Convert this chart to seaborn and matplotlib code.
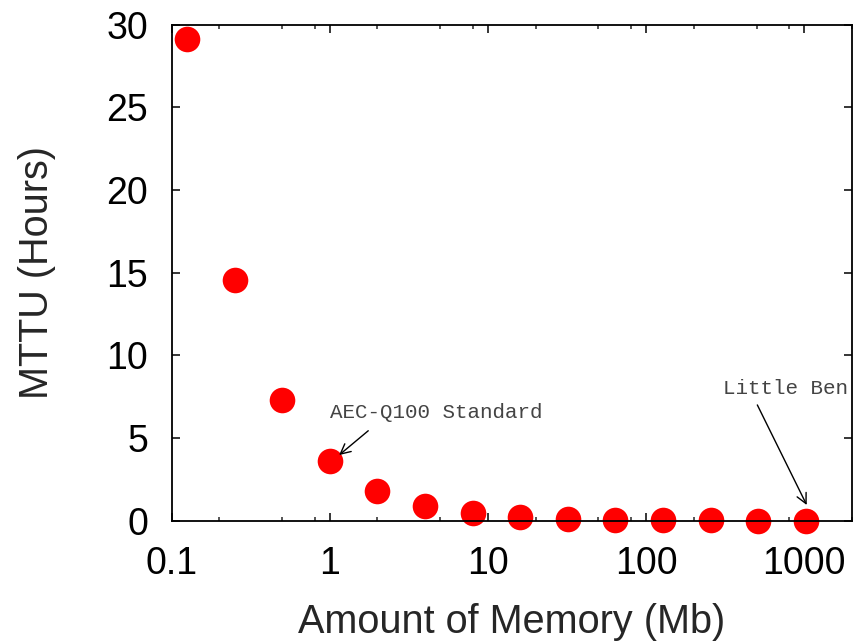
import matplotlib
matplotlib.use("Agg")
import matplotlib.pyplot as plt
import matplotlib.ticker as mticker
import seaborn as sns
import pandas as pd

memory_mb = [0.125, 0.25, 0.5, 1, 2, 4, 8, 16, 32, 64, 128, 256, 512, 1024]
mttu_hours = [29.1, 14.55, 7.28, 3.64, 1.82, 0.91, 0.455, 0.23, 0.114, 0.057, 0.028, 0.014, 0.007, 0.0036]
x_ticks = [0.1, 1, 10, 100, 1000]
x_tick_labels = ["0.1", "1", "10", "100", "1000"]
y_ticks = [0, 5, 10, 15, 20, 25, 30]

df = pd.DataFrame({"memory": memory_mb, "mttu": mttu_hours})

sns.set_style("ticks")
plt.rcParams["font.family"] = ["Liberation Sans", "DejaVu Sans"]

fig = plt.figure(figsize=(8.57, 6.42), dpi=100)
ax = fig.add_axes([0.2004, 0.1889, 0.9938 - 0.2004, 0.9618 - 0.1889])

sns.scatterplot(data=df, x="memory", y="mttu", ax=ax, color="#ff0000",
                s=340, linewidth=0, clip_on=False, zorder=1)

ax.set_xscale("log")
ax.set_xlim(0.1, 2000)
ax.set_ylim(0, 30)
ax.set_xticks(x_ticks)
ax.set_xticklabels(x_tick_labels)
minors = [m * 10.0 ** e for e in range(-1, 4) for m in (2, 5, 8)]
ax.xaxis.set_minor_locator(mticker.FixedLocator(minors))
ax.xaxis.set_minor_formatter(mticker.NullFormatter())
ax.set_yticks(y_ticks)

for sp in ax.spines.values():
    sp.set_visible(True)
    sp.set_linewidth(1.3)
    sp.set_color("black")

ax.tick_params(axis="both", which="major", direction="in", length=5.8, width=1.1,
               labelsize=27, top=True, right=True, colors="black")
ax.tick_params(axis="both", which="minor", direction="in", length=2.9, width=1.1,
               top=True, right=True)
ax.tick_params(axis="y", which="major", pad=17)
ax.tick_params(axis="x", which="major", pad=18)

ax.set_xlabel("Amount of Memory (Mb)", fontsize=28.5, labelpad=15)
ax.set_ylabel("MTTU (Hours)", fontsize=28.5, labelpad=36)

mono = ["Liberation Mono", "DejaVu Sans Mono"]
ax.text(1.0, 6.2, "AEC-Q100 Standard", family=mono, fontsize=15, color="#444444",
        ha="left", va="baseline")
ax.annotate("", xy=(1.145, 3.97), xytext=(1.75, 5.44),
            arrowprops=dict(arrowstyle="->", lw=1.0, color="black",
                            shrinkA=0, shrinkB=0, mutation_scale=18))
ax.text(308, 7.66, "Little Ben", family=mono, fontsize=15, color="#444444",
        ha="left", va="baseline")
ax.annotate("", xy=(1039, 0.95), xytext=(506, 7.0),
            arrowprops=dict(arrowstyle="->", lw=1.0, color="black",
                            shrinkA=0, shrinkB=0, mutation_scale=18))

fig.savefig("out.png", dpi=100)
